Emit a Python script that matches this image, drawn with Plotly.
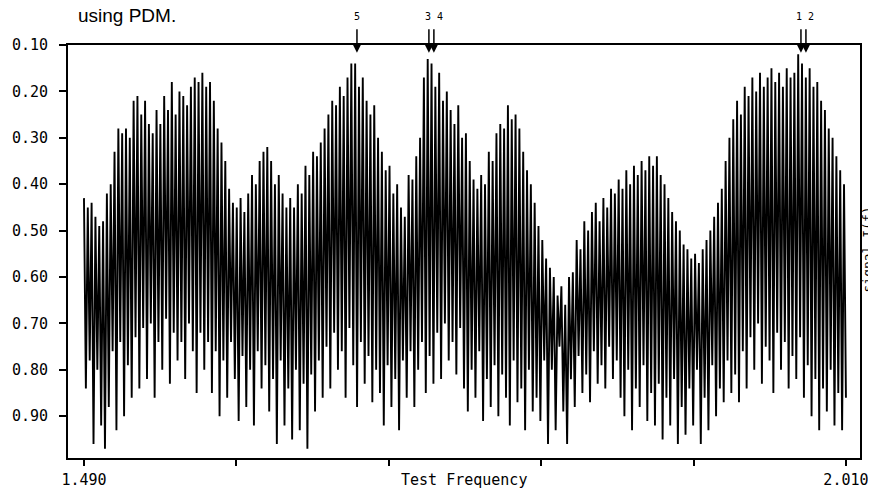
import numpy as np
import plotly.graph_objects as go

# PDM theta statistic over the test-frequency grid (alternating local minima / maxima)
theta = [
    0.43, 0.84, 0.45, 0.78, 0.44, 0.96, 0.47, 0.80, 0.49, 0.92, 0.48, 0.97,
    0.42, 0.88, 0.40, 0.76, 0.33, 0.93, 0.28, 0.74, 0.29, 0.90, 0.28, 0.79, 0.30, 0.86, 0.22, 0.73, 0.21, 0.84,
    0.25, 0.71, 0.22, 0.82, 0.27, 0.70, 0.29, 0.86, 0.24, 0.74, 0.27, 0.80, 0.21, 0.69, 0.24, 0.83, 0.18, 0.72, 0.25, 0.78, 0.20, 0.74,
    0.21, 0.82, 0.23, 0.70, 0.19, 0.76, 0.17, 0.85, 0.18, 0.72, 0.16, 0.80, 0.19, 0.74, 0.18, 0.85, 0.22, 0.76,
    0.28, 0.90, 0.31, 0.78, 0.35, 0.86, 0.41, 0.74, 0.44, 0.82, 0.45, 0.91, 0.43, 0.77,
    0.46, 0.88, 0.42, 0.80, 0.38, 0.92, 0.40, 0.76, 0.35, 0.84, 0.33, 0.79, 0.32, 0.89,
    0.35, 0.82, 0.40, 0.96, 0.38, 0.78, 0.42, 0.92, 0.45, 0.84, 0.43, 0.95, 0.45, 0.80,
    0.40, 0.93, 0.42, 0.83, 0.36, 0.97, 0.38, 0.81, 0.33, 0.89, 0.34, 0.78, 0.31, 0.86,
    0.28, 0.75, 0.25, 0.84, 0.22, 0.72, 0.23, 0.80, 0.19, 0.76, 0.21, 0.86, 0.17, 0.71, 0.14, 0.79,
    0.14, 0.88, 0.19, 0.74, 0.17, 0.83, 0.22, 0.77, 0.25, 0.87, 0.23, 0.80, 0.30, 0.85,
    0.33, 0.92, 0.37, 0.79, 0.36, 0.88, 0.42, 0.82, 0.40, 0.93, 0.45, 0.78, 0.47, 0.86,
    0.38, 0.76, 0.39, 0.88, 0.34, 0.80, 0.30, 0.74, 0.17, 0.85, 0.13, 0.77, 0.14, 0.83, 0.19, 0.72,
    0.16, 0.82, 0.22, 0.70, 0.20, 0.78, 0.24, 0.74, 0.27, 0.81, 0.23, 0.71, 0.30, 0.84,
    0.29, 0.89, 0.35, 0.80, 0.39, 0.86, 0.41, 0.76, 0.38, 0.91, 0.40, 0.82, 0.33, 0.88,
    0.35, 0.79, 0.29, 0.90, 0.27, 0.81, 0.28, 0.86, 0.23, 0.92, 0.26, 0.78, 0.25, 0.87,
    0.28, 0.84, 0.33, 0.93, 0.37, 0.80, 0.40, 0.89, 0.44, 0.86, 0.49, 0.91, 0.52, 0.78,
    0.56, 0.96, 0.58, 0.80, 0.60, 0.93, 0.64, 0.75, 0.62, 0.89, 0.66, 0.96, 0.60, 0.82,
    0.59, 0.88, 0.52, 0.77, 0.54, 0.85, 0.48, 0.81, 0.50, 0.87, 0.46, 0.76, 0.44, 0.83,
    0.48, 0.79, 0.43, 0.84, 0.45, 0.75, 0.41, 0.82, 0.42, 0.78, 0.39, 0.86, 0.41, 0.90,
    0.37, 0.80, 0.40, 0.93, 0.36, 0.84, 0.38, 0.88, 0.35, 0.79, 0.37, 0.91, 0.34, 0.85, 0.36, 0.92, 0.34, 0.83,
    0.38, 0.95, 0.40, 0.86, 0.43, 0.92, 0.46, 0.82, 0.48, 0.96, 0.50, 0.88, 0.53, 0.94, 0.54, 0.84,
    0.56, 0.92, 0.55, 0.80, 0.57, 0.96, 0.54, 0.86, 0.52, 0.93, 0.50, 0.79, 0.47, 0.90, 0.44, 0.84,
    0.41, 0.87, 0.35, 0.78, 0.30, 0.85, 0.26, 0.81, 0.22, 0.87, 0.25, 0.76,
    0.19, 0.84, 0.21, 0.73, 0.17, 0.80, 0.20, 0.70, 0.16, 0.83, 0.19, 0.75, 0.17, 0.78, 0.15, 0.85,
    0.18, 0.72, 0.16, 0.80, 0.19, 0.74, 0.15, 0.84, 0.17, 0.77, 0.16, 0.82, 0.12, 0.73, 0.14, 0.86,
    0.17, 0.79, 0.15, 0.90, 0.19, 0.82, 0.18, 0.93, 0.22, 0.84, 0.24, 0.89, 0.28, 0.80, 0.30, 0.92,
    0.34, 0.85, 0.37, 0.93, 0.40, 0.86,
]
freq_start = 1.490
freq_stop = 2.010

# marked peaks (arrows) and their labels
arrow_freqs = [1.6763, 1.7254, 1.7288, 1.9793, 1.9827]
label_texts = ["5", "3 4", "1 2"]
label_freqs = [1.6763, 1.7292, 1.9820]

y_tickvals = [0.10, 0.20, 0.30, 0.40, 0.50, 0.60, 0.70, 0.80, 0.90]
y_ticktext = ["0.10", "0.20", "0.30", "0.40", "0.50", "0.60", "0.70", "0.80", "0.90"]
x_tickvals = [1.490, 1.594, 1.698, 1.802, 1.906, 2.010]
x_ticktext = ["1.490", "", "", "", "", "2.010"]

freq = np.linspace(freq_start, freq_stop, len(theta))

mono = "DejaVu Sans Mono"

fig = go.Figure()
fig.add_trace(go.Scatter(
    x=freq, y=theta, mode="lines",
    line=dict(color="black", width=1.9),
    showlegend=False, hoverinfo="skip",
))

for f in arrow_freqs:
    fig.add_annotation(
        x=f, y=0.981, xref="x", yref="paper", text="",
        showarrow=True, ax=0, ay=-25, arrowhead=2, arrowsize=1.3,
        arrowwidth=1.5, arrowcolor="black",
    )
for t, f in zip(label_texts, label_freqs):
    fig.add_annotation(
        x=f, y=1.070, xref="x", yref="paper", text=t, showarrow=False,
        font=dict(family=mono, size=10, color="black"),
        xanchor="center", yanchor="middle",
    )

fig.add_annotation(
    x=0.5, y=-0.053, xref="paper", yref="paper", text="Test Frequency",
    showarrow=False, font=dict(family=mono, size=15, color="black"),
    xanchor="center", yanchor="middle",
)
fig.add_annotation(
    x=1.0202, y=0.506, xref="paper", yref="paper", text="signal I(f)",
    showarrow=False, textangle=-90, borderpad=0,
    font=dict(family=mono, size=13, color="black"),
    xanchor="right", yanchor="middle",
)
fig.add_annotation(
    x=0.0097, y=1.0715, xref="paper", yref="paper", text="using PDM.",
    showarrow=False, font=dict(family="Liberation Sans", size=19, color="black"),
    xanchor="left", yanchor="middle",
)

fig.update_xaxes(
    range=[1.4791, 2.0196], tickvals=x_tickvals, ticktext=x_ticktext,
    ticks="outside", ticklen=6, tickwidth=1.5, tickcolor="black",
    showline=True, linewidth=2, linecolor="black", mirror=True,
    showgrid=False, zeroline=False, ticklabelstandoff=1, automargin=False,
    tickfont=dict(family=mono, size=15, color="black"),
)
fig.update_yaxes(
    range=[0.990, 0.10], tickvals=y_tickvals, ticktext=y_ticktext,
    ticks="outside", ticklen=7, tickwidth=1.5, tickcolor="black",
    showline=True, linewidth=2, linecolor="black", mirror=True,
    showgrid=False, zeroline=False, ticklabelstandoff=8, automargin=False,
    tickfont=dict(family=mono, size=15, color="black"),
)
# the page body adds an 8 px offset, so the figure is 8 px smaller and margins shifted
fig.update_layout(
    width=868, height=481,
    margin=dict(l=60, r=16, t=37, b=31),
    paper_bgcolor="white", plot_bgcolor="white",
)
fig.write_html("out.html")
